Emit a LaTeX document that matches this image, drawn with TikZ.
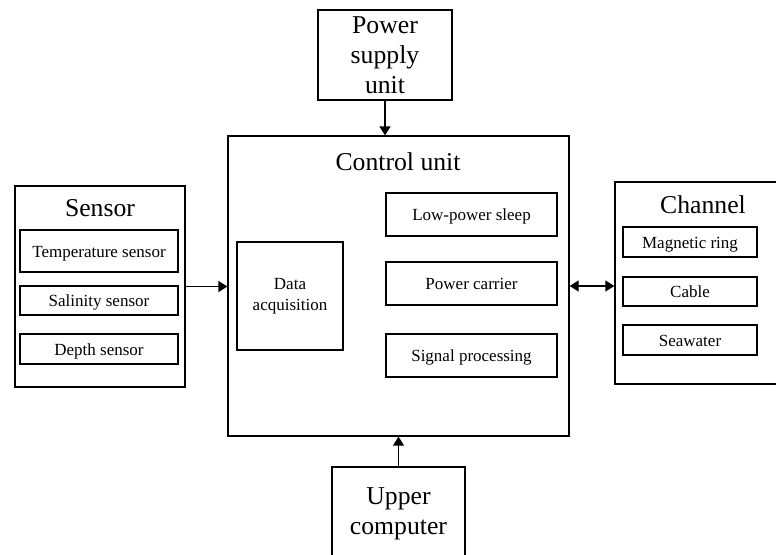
\documentclass[tikz,border=0pt]{standalone}
\usepackage{fontspec}
\setmainfont{Liberation Serif}
\usetikzlibrary{arrows.meta}
\tikzset{
  box/.style={draw, line width=1.3pt, inner sep=0pt, fill=white},
  big/.style={font=\fontsize{25.7}{30}\selectfont, align=center, inner sep=0pt},
  small/.style={font=\fontsize{17}{21}\selectfont, align=center},
  one/.style={text height=12.5pt, text depth=0pt},
  arr/.style={line width=1.3pt, -{Triangle[length=9pt,width=11pt]}},
  darr/.style={line width=1.3pt, {Triangle[length=9pt,width=11pt]}-{Triangle[length=9pt,width=11pt]}}
}
\begin{document}
\begin{tikzpicture}[x=1pt,y=-1pt]
\useasboundingbox (0,0) rectangle (776,554);
\clip (0,0) rectangle (776,554);
% power supply
\node[box, minimum width=134pt, minimum height=90pt] (power) at (385,55) {};
\node[big] (powert) at (385,55) {Power\\supply\\unit};
% control unit
\node[box, minimum width=341pt, minimum height=300pt] (control) at (398.5,286) {};
\node[big] (controlt) at (398,162) {Control unit};
\node[box, small, minimum width=106pt, minimum height=108pt] (daq) at (290,296) {Data\\acquisition};
\node[box, small, one, minimum width=171pt, minimum height=43pt] (sleep) at (471.5,214.5) {Low-power sleep};
\node[box, small, one, minimum width=171pt, minimum height=43pt] (carrier) at (471.5,283.5) {Power carrier};
\node[box, small, one, minimum width=171pt, minimum height=43pt] (signal) at (471.5,355.5) {Signal processing};
% sensor
\node[box, minimum width=170pt, minimum height=201pt] (sensor) at (100,286.5) {};
\node[big] (sensort) at (100,208) {Sensor};
\node[box, small, one, minimum width=158pt, minimum height=42pt] (temp) at (99,251) {Temperature sensor};
\node[box, small, one, minimum width=158pt, minimum height=29pt] (sal) at (99,300.5) {Salinity sensor};
\node[box, small, one, minimum width=158pt, minimum height=30pt] (depth) at (99,349) {Depth sensor};
% channel
\node[box, minimum width=176pt, minimum height=202pt] (channel) at (703,283) {};
\node[big] (channelt) at (703,205) {Channel};
\node[box, small, one, minimum width=134pt, minimum height=30pt] (ring) at (690,242) {Magnetic ring};
\node[box, small, one, minimum width=134pt, minimum height=29pt] (cable) at (690,291.5) {Cable};
\node[box, small, one, minimum width=134pt, minimum height=30pt] (sea) at (690,340) {Seawater};
% upper computer
\node[box, minimum width=133pt, minimum height=100pt] (upper) at (398.5,517) {};
\node[big] (uppert) at (398.5,514) {Upper\\computer};
% connectors
\draw[arr] (power.south) -- (power.south |- control.north);
\draw[arr] (upper.north) -- (upper.north |- control.south);
\draw[arr] (sensor.east) -- (sensor.east -| control.west);
\draw[darr] (control.east) -- (control.east -| channel.west);
\end{tikzpicture}
\end{document}
